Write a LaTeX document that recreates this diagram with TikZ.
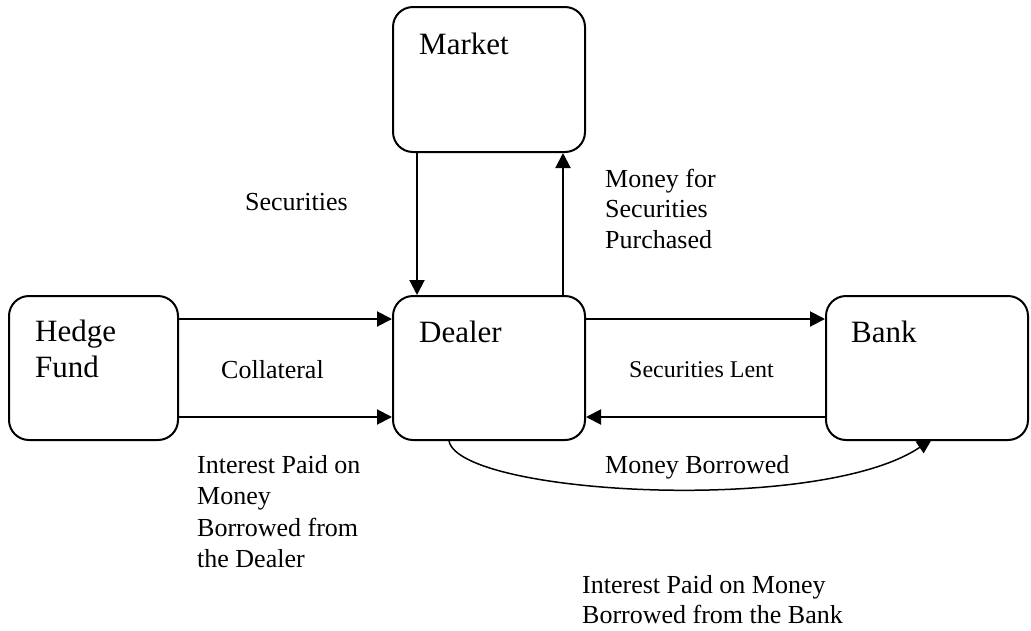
\documentclass[tikz,border=0pt]{standalone}
\usepackage{fontspec}
\setmainfont{Liberation Serif}
\usetikzlibrary{arrows.meta}
\begin{document}
\begin{tikzpicture}[x=1pt,y=-1pt,
  box/.style={draw, line width=2pt, rounded corners=20pt, inner sep=0pt},
  boxname/.style={anchor=base west, inner sep=0pt, font=\fontsize{31}{36}\selectfont, align=left},
  lbl/.style={anchor=base west, inner sep=0pt, font=\fontsize{26}{31.5}\selectfont, align=left},
  flow/.style={line width=2pt, -{Triangle[length=15pt,width=15pt]}},
  curveflow/.style={line width=1.5pt, -{Triangle[length=15pt,width=14pt]}}]
\useasboundingbox (0,0) rectangle (1031,630);
% boxes
\node[box, minimum width=192pt, minimum height=145pt] (market) at (489,79.5) {};
\node[box, minimum width=192pt, minimum height=144pt] (dealer) at (489,368) {};
\node[box, minimum width=169pt, minimum height=144pt] (hf) at (93.5,368) {};
\node[box, minimum width=202pt, minimum height=144pt] (bank) at (927,368) {};
% box names (base anchor = baseline of the last line)
\node[boxname] (tmarket) at ([xshift=27pt,yshift=-48pt]market.north west) {Market};
\node[boxname] (tdealer) at ([xshift=27pt,yshift=-47pt]dealer.north west) {Dealer};
\node[boxname] (thf) at ([xshift=27pt,yshift=-82pt]hf.north west) {Hedge\\Fund};
\node[boxname] (tbank) at ([xshift=26pt,yshift=-47pt]bank.north west) {Bank};
% connectors
\draw[flow] ([yshift=-24pt]hf.north east) -- ([yshift=-24pt]dealer.north west);
\draw[flow] ([yshift=24pt]hf.south east) -- ([yshift=24pt]dealer.south west);
\draw[flow] ([yshift=-24pt]dealer.north east) -- ([yshift=-24pt]bank.north west);
\draw[flow] ([yshift=24pt]bank.south west) -- ([yshift=24pt]dealer.south east);
\draw[flow] ([xshift=25pt]market.south west) -- ([xshift=25pt]dealer.north west);
\draw[flow] ([xshift=-23pt]dealer.north east) -- ([xshift=-23pt]market.south east);
\coordinate (cs) at ([xshift=57pt]dealer.south west);
\coordinate (ce) at ([xshift=107pt,yshift=2pt]bank.south west);
\draw[curveflow] (cs) .. controls (460,495) and (820,515) .. (ce);
% labels
\node[lbl] (lsec) at (245,210) {Securities};
\node[lbl, font=\fontsize{26}{30.5}\selectfont] (lmoney) at (605,248) {Money for\\Securities\\Purchased};
\node[lbl] (lcoll) at (221,378) {Collateral};
\node[lbl, font=\fontsize{24}{29}\selectfont] (llent) at (629,377) {Securities Lent};
\node[lbl] (lborr) at (605,473) {Money Borrowed};
\node[lbl] (lintd) at (197,567.5) {Interest Paid on\\Money\\Borrowed from\\the Dealer};
\node[lbl, font=\fontsize{26}{30}\selectfont] (lintb) at (582,623) {Interest Paid on Money\\Borrowed from the Bank};
\end{tikzpicture}
\end{document}
